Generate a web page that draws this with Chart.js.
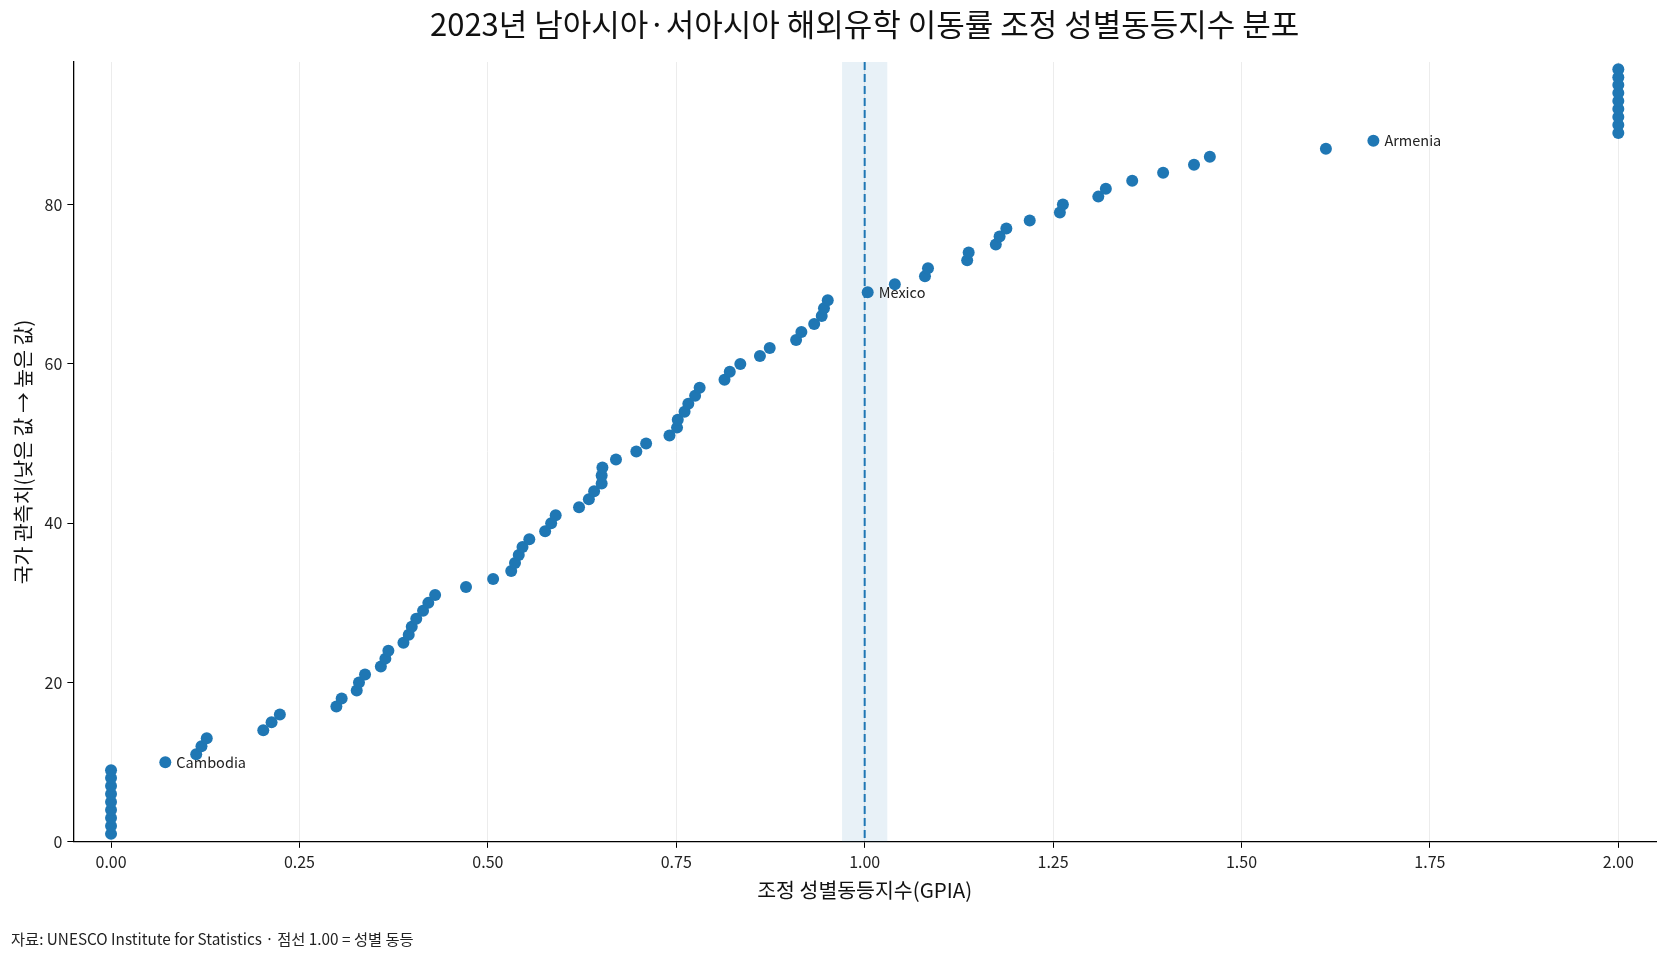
<!DOCTYPE html>
<html>
<head>
<meta charset="UTF-8">
<title>GPIA 분포</title>
<script src="https://cdn.jsdelivr.net/npm/chart.js"></script>
<style>
  html, body { margin: 0; padding: 0; background: #fff; }
  #wrap { width: 1669px; height: 959px; }
</style>
</head>
<body>
<div id="wrap"><canvas id="scatter"></canvas></div>

<script>
// 국가 순위 (낮은 값 -> 높은 값)
const ranks = [
  1, 2, 3, 4, 5, 6, 7, 8, 9, 10,
  11, 12, 13, 14, 15, 16, 17, 18, 19, 20,
  21, 22, 23, 24, 25, 26, 27, 28, 29, 30,
  31, 32, 33, 34, 35, 36, 37, 38, 39, 40,
  41, 42, 43, 44, 45, 46, 47, 48, 49, 50,
  51, 52, 53, 54, 55, 56, 57, 58, 59, 60,
  61, 62, 63, 64, 65, 66, 67, 68, 69, 70,
  71, 72, 73, 74, 75, 76, 77, 78, 79, 80,
  81, 82, 83, 84, 85, 86, 87, 88, 89, 90,
  91, 92, 93, 94, 95, 96, 97
];

// 조정 성별동등지수(GPIA)
const gpia = [
  0.000, 0.000, 0.000, 0.000, 0.000, 0.000, 0.000, 0.000, 0.000, 0.072,
  0.113, 0.120, 0.127, 0.202, 0.213, 0.224, 0.299, 0.306, 0.326, 0.329,
  0.337, 0.358, 0.364, 0.368, 0.388, 0.395, 0.399, 0.405, 0.414, 0.421,
  0.430, 0.471, 0.507, 0.531, 0.536, 0.541, 0.546, 0.555, 0.576, 0.584,
  0.590, 0.621, 0.634, 0.641, 0.651, 0.651, 0.652, 0.670, 0.697, 0.710,
  0.741, 0.751, 0.752, 0.761, 0.766, 0.775, 0.781, 0.814, 0.821, 0.835,
  0.861, 0.874, 0.909, 0.916, 0.933, 0.943, 0.946, 0.951, 1.004, 1.040,
  1.080, 1.084, 1.136, 1.138, 1.174, 1.179, 1.188, 1.219, 1.259, 1.263,
  1.310, 1.320, 1.355, 1.396, 1.437, 1.458, 1.612, 1.675, 2.000, 2.000,
  2.000, 2.000, 2.000, 2.000, 2.000, 2.000, 2.000
];

// 이름 표시 국가
const labelNames = ["Cambodia", "Mexico", "Armenia"];
const labelRanks = [10, 69, 88];

const xTicks = [0, 0.25, 0.5, 0.75, 1.0, 1.25, 1.5, 1.75, 2.0];
const parityLine = 1.0;
const parityBand = [0.97, 1.03];

const chartTitle = '2023년 남아시아·서아시아 해외유학 이동률 조정 성별동등지수 분포';

const FONT = '"Noto Sans CJK KR", "Noto Sans", sans-serif';
const BLUE = '#1f77b4';

const points = gpia.map((g, i) => ({ x: g, y: ranks[i] }));

// 기준선(1.00), 허용 구간, 국가명, 플롯 중앙 제목
const parityPlugin = {
  id: 'parity',
  beforeDatasetsDraw(chart) {
    const { ctx, chartArea: a, scales: { x } } = chart;
    const b0 = x.getPixelForValue(parityBand[0]);
    const b1 = x.getPixelForValue(parityBand[1]);
    ctx.save();
    ctx.fillStyle = 'rgba(31,119,180,0.10)';
    ctx.fillRect(b0, a.top, b1 - b0, a.bottom - a.top);
    const px = x.getPixelForValue(parityLine);
    ctx.strokeStyle = BLUE;
    ctx.lineWidth = 2;
    ctx.setLineDash([8, 4]);
    ctx.beginPath();
    ctx.moveTo(px, a.top);
    ctx.lineTo(px, a.bottom);
    ctx.stroke();
    ctx.restore();
  },
  afterDatasetsDraw(chart) {
    const { ctx, chartArea: a, scales: { x, y } } = chart;
    ctx.save();
    ctx.font = '14.5px ' + FONT;
    ctx.fillStyle = '#222';
    ctx.textBaseline = 'middle';
    labelNames.forEach((name, i) => {
      const r = labelRanks[i];
      const g = gpia[ranks.indexOf(r)];
      ctx.fillText(name, x.getPixelForValue(g) + 11, y.getPixelForValue(r));
    });
    ctx.font = '31px ' + FONT;
    ctx.fillStyle = '#111';
    ctx.textAlign = 'center';
    ctx.fillText(chartTitle, (a.left + a.right) / 2, 24);
    ctx.restore();
  }
};

new Chart(document.getElementById('scatter'), {
  type: 'scatter',
  data: {
    datasets: [{
      data: points,
      backgroundColor: BLUE,
      borderWidth: 0,
      pointRadius: 6,
      pointHoverRadius: 6
    }]
  },
  options: {
    responsive: true,
    maintainAspectRatio: false,
    animation: false,
    layout: { padding: { left: 11, right: 13, top: 62, bottom: 0 } },
    plugins: {
      legend: { display: false },
      tooltip: { enabled: false },
      title: { display: false },
      subtitle: {
        display: true,
        position: 'bottom',
        align: 'start',
        text: '자료: UNESCO Institute for Statistics · 점선 1.00 = 성별 동등',
        color: '#222',
        font: { family: FONT, size: 15.3 },
        padding: { top: 27, bottom: 11 }
      }
    },
    scales: {
      x: {
        type: 'linear',
        min: -0.05,
        max: 2.05,
        afterBuildTicks(axis) { axis.ticks = xTicks.map(v => ({ value: v })); },
        ticks: {
          includeBounds: false,
          color: '#222',
          font: { family: FONT, size: 16 },
          padding: 4,
          callback: v => Number(v).toFixed(2)
        },
        grid: {
          color: '#ececec',
          tickColor: '#000',
          tickLength: 6,
          lineWidth: 1
        },
        border: { display: true, color: '#000', width: 1.3 },
        title: {
          display: true,
          text: '조정 성별동등지수(GPIA)',
          color: '#111',
          font: { family: FONT, size: 20.5 },
          padding: { top: 3, bottom: 0 }
        }
      },
      y: {
        type: 'linear',
        min: 0,
        max: 97.9,
        ticks: {
          includeBounds: false,
          stepSize: 20,
          color: '#222',
          font: { family: FONT, size: 16 },
          padding: 5
        },
        grid: {
          drawOnChartArea: false,
          tickColor: '#000',
          tickLength: 6
        },
        border: { display: true, color: '#000', width: 1.3 },
        title: {
          display: true,
          text: '국가 관측치(낮은 값 → 높은 값)',
          color: '#111',
          font: { family: FONT, size: 20.5 },
          padding: { top: 0, bottom: 4 }
        }
      }
    }
  },
  plugins: [parityPlugin]
});
</script>
</body>
</html>
